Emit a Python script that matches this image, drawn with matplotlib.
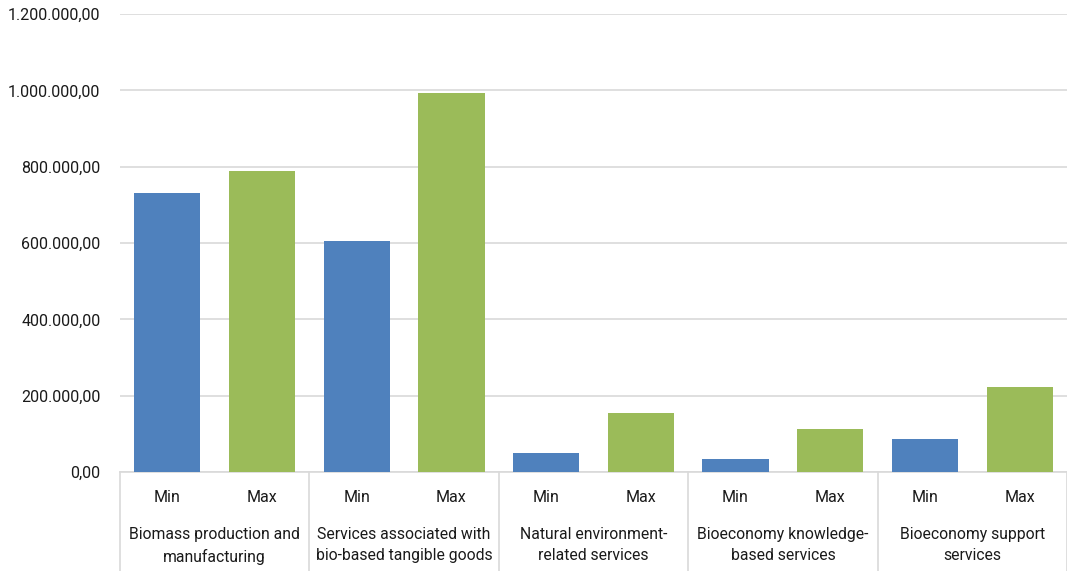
import matplotlib.pyplot as plt
import matplotlib.transforms as mtransforms
from matplotlib.ticker import FuncFormatter, MultipleLocator
import numpy as np

groups = ["Biomass production and\nmanufacturing",
          "Services associated with\nbio-based tangible goods",
          "Natural environment-\nrelated services",
          "Bioeconomy knowledge-\nbased services",
          "Bioeconomy support\nservices"]
series = ["Min", "Max"]
min_vals = [730000, 605000, 50000, 34000, 87000]
max_vals = [788000, 992000, 155000, 113000, 222000]
colors = ["#4F81BD", "#9BBB59"]

plt.rcParams['font.family'] = ['Roboto', 'DejaVu Sans']

fig = plt.figure(figsize=(10.67, 5.71), dpi=100)
ax = fig.add_axes([120 / 1067, 99 / 571, 947 / 1067, 458 / 571])

n = len(groups)
x = np.arange(n) * 2
ax.bar(x + 0.5, min_vals, width=0.7, color=colors[0], zorder=3)
ax.bar(x + 1.5, max_vals, width=0.7, color=colors[1], zorder=3)

ax.set_xlim(0, 2 * n)
ax.set_ylim(0, 1200000)
ax.yaxis.set_major_locator(MultipleLocator(200000))


def eu_fmt(v, pos):
    s = f"{v:,.2f}"
    return s.replace(",", "X").replace(".", ",").replace("X", ".")


ax.yaxis.set_major_formatter(FuncFormatter(eu_fmt))
ax.grid(axis='y', color='#d9d9d9', linewidth=1.2, zorder=0)
for sp in ['left', 'right', 'top']:
    ax.spines[sp].set_visible(False)
ax.spines['bottom'].set_color('#d9d9d9')
ax.spines['bottom'].set_linewidth(1.2)
ax.tick_params(axis='y', length=0, pad=14, labelsize=11.5, labelcolor='#1a1a1a')

ax.set_xticks(np.concatenate([x + 0.5, x + 1.5]))
ax.set_xticklabels([series[0]] * n + [series[1]] * n)
ax.tick_params(axis='x', length=0, pad=13, labelsize=11.5, labelcolor='#1a1a1a')

trans = mtransforms.blended_transform_factory(ax.transData, ax.transAxes)
for i in range(n + 1):
    ax.plot([2 * i, 2 * i], [0, -99 / 458], transform=trans, color='#d9d9d9',
            linewidth=1.2, clip_on=False)
for i, g in enumerate(groups):
    ax.text(2 * i + 1, -55 / 458, g, transform=trans, ha='center', va='top',
            fontsize=11.3, color='#1a1a1a', linespacing=1.5)

fig.savefig("out.png", dpi=100)
